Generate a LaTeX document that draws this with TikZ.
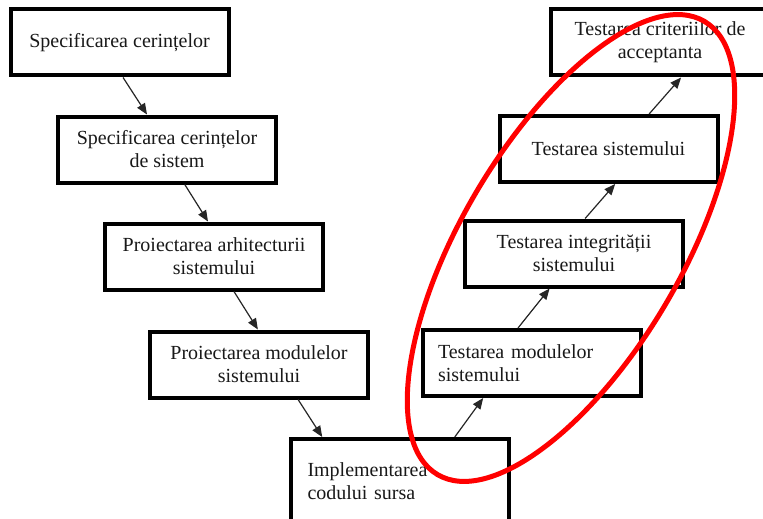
\documentclass[tikz,border=0pt]{standalone}
\usepackage{fontspec}
\setmainfont{Liberation Serif}
\usetikzlibrary{arrows.meta,calc}

\tikzset{
  stage/.style={draw=black, line width=4pt, fill=white, inner sep=0pt,
    minimum width=218pt, minimum height=66pt, align=center,
    font=\fontsize{20}{23}\selectfont, text=black!90},
  leftstage/.style={stage, align=left, inner xsep=15pt, text width=188pt},
  flow/.style={draw=black!85, line width=1.2pt,
    -{Triangle[length=11pt,width=9pt]}},
  ring/.style={draw=red, line width=5pt}
}

\begin{document}
\begin{tikzpicture}[x=1pt,y=1pt]
  \useasboundingbox (0,0) rectangle (763,-519);
  \clip (0,0) rectangle (763,-519);
  \fill[white] (0,0) rectangle (763,-519);

  % descending branch
  \node[stage] (b1) at (119.5,-42.5) {Specificarea cerințelor};
  \node[stage] (b2) at (167,-149.5) {Specificarea cerințelor\\de sistem};
  \node[stage] (b3) at (214,-256.5) {Proiectarea arhitecturii\\sistemului};
  \node[stage] (b4) at (259,-364.5) {Proiectarea modulelor\\sistemului};

  % bottom of the V
  \node[leftstage, inner xsep=17pt, text width=184pt, minimum height=85pt]
    (b5) at (399.5,-481.5) {Implementarea\\codului sursa};

  % ascending branch
  \node[leftstage] (b6) at (532,-363) {Testarea modulelor\\sistemului};
  \node[stage] (b7) at (574,-253.5) {Testarea integrității\\sistemului};
  \node[stage] (b8) at (608.5,-149) {Testarea sistemului};
  \node[stage] (b9) at (660,-42.5) {Testarea criteriilor de\\acceptanta};

  % connectors
  \draw[flow] ($(b1.south west)!0.516!(b1.south east)$) -- ($(b2.north west)!0.41!(b2.north east)$);
  \draw[flow] ($(b2.south west)!0.58!(b2.south east)$) -- ($(b3.north west)!0.473!(b3.north east)$);
  \draw[flow] ($(b3.south west)!0.59!(b3.south east)$) -- ($(b4.north west)!0.495!(b4.north east)$);
  \draw[flow] ($(b4.south west)!0.676!(b4.south east)$) -- ($(b5.north west)!0.152!(b5.north east)$);
  \draw[flow] ($(b5.north west)!0.749!(b5.north east)$) -- ($(b6.south west)!0.28!(b6.south east)$);
  \draw[flow] ($(b6.north west)!0.437!(b6.north east)$) -- ($(b7.south west)!0.39!(b7.south east)$);
  \draw[flow] ($(b7.north west)!0.55!(b7.north east)$) -- ($(b8.south west)!0.53!(b8.south east)$);
  \draw[flow] ($(b8.north west)!0.683!(b8.north east)$) -- ($(b9.south west)!0.595!(b9.south east)$);

  % highlight around the testing branch
  \coordinate (rc) at (571,-248);
  \draw[ring, rotate around={59.5:(rc)}] (rc) ellipse [x radius=263, y radius=110];
\end{tikzpicture}
\end{document}
